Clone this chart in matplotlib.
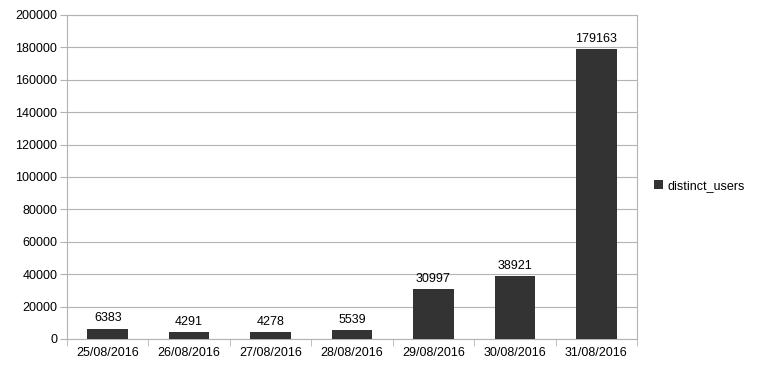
import matplotlib
matplotlib.use("Agg")
import matplotlib.pyplot as plt
import numpy as np

plt.rcParams["font.family"] = ["Liberation Sans", "DejaVu Sans"]

DATES = ["25/08/2016", "26/08/2016", "27/08/2016", "28/08/2016",
         "29/08/2016", "30/08/2016", "31/08/2016"]
DISTINCT_USERS = [6383, 4291, 4278, 5539, 30997, 38921, 179163]
Y_TICKS = [0, 20000, 40000, 60000, 80000, 100000, 120000, 140000, 160000, 180000, 200000]

GRID = "#b3b3b3"
BAR = "#333333"

fig = plt.figure(figsize=(7.62, 3.70), dpi=100)
ax = fig.add_axes([0.0879, 0.0838, 0.7481, 0.8757])

x = np.arange(len(DATES))
bars = ax.bar(x, DISTINCT_USERS, width=0.5, color=BAR, label="distinct_users", zorder=3)
for rect, val in zip(bars, DISTINCT_USERS):
    ax.annotate(str(val), (rect.get_x() + rect.get_width() / 2, val),
                xytext=(0, 3), textcoords="offset points",
                ha="center", va="bottom", fontsize=9, color="black")

ax.set_xlim(-0.5, len(DATES) - 0.5)
ax.set_ylim(0, 200000)
ax.set_yticks(Y_TICKS)
ax.set_yticklabels([str(t) for t in Y_TICKS], fontsize=9)
ax.yaxis.grid(True, color=GRID, linewidth=0.8, zorder=0)
ax.tick_params(axis="y", length=5, color=GRID, pad=2)

ax.set_xticks(x)
ax.set_xticklabels(DATES, fontsize=9)
ax.tick_params(axis="x", length=0, pad=6)
ax.set_xticks(np.arange(len(DATES) + 1) - 0.5, minor=True)
ax.tick_params(axis="x", which="minor", length=5, color=GRID)

for side in ax.spines.values():
    side.set_color(GRID)
    side.set_linewidth(0.8)

ax.legend(loc="center left", bbox_to_anchor=(1.01, 0.472), frameon=False,
          fontsize=9, handlelength=0.7, handleheight=0.7, handletextpad=0.4)

fig.savefig("out.png", dpi=100)
